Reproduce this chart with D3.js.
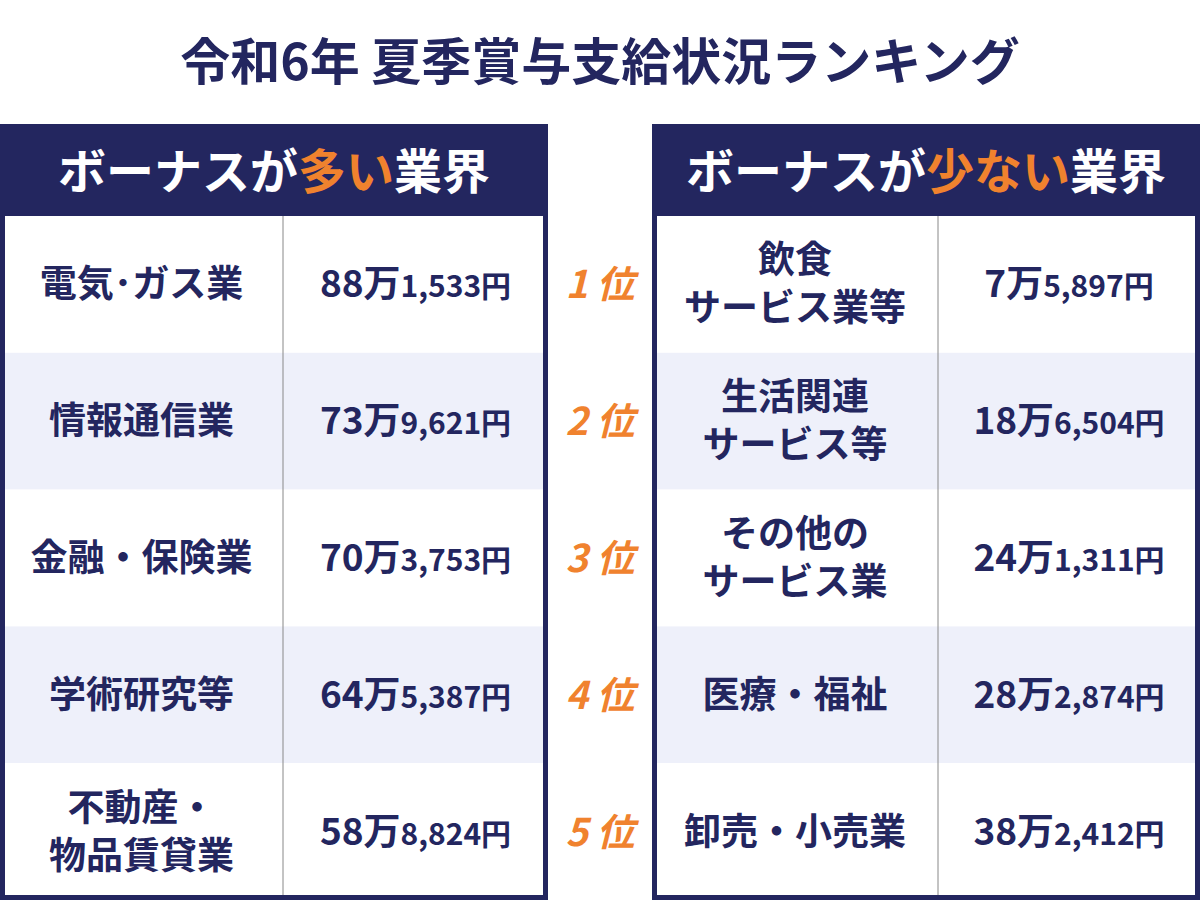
<!DOCTYPE html>
<html><head><meta charset="utf-8">
<script src="https://cdn.jsdelivr.net/npm/d3@7"></script>
<style>body{margin:0;background:#fff}svg{display:block}text{font-family:"Noto Sans CJK JP","Noto Sans",sans-serif;font-weight:700}</style>
</head><body>
<svg id="c" width="1200" height="902"></svg>
<script>
const title = "令和6年 夏季賞与支給状況ランキング";
const ranks = ["1","2","3","4","5"];
const highIndustries = [["電気･ガス業"],["情報通信業"],["金融・保険業"],["学術研究等"],["不動産・","物品賃貸業"]];
const highMan = ["88万","73万","70万","64万","58万"];
const highRest = ["1,533円","9,621円","3,753円","5,387円","8,824円"];
const lowIndustries = [["飲食","サービス業等"],["生活関連","サービス等"],["その他の","サービス業"],["医療・福祉"],["卸売・小売業"]];
const lowMan = ["7万","18万","24万","28万","38万"];
const lowRest = ["5,897円","6,504円","1,311円","2,874円","2,412円"];

const NAVY="#23265f", ORANGE="#f0822e", ALT="#eef0fa";
const svg=d3.select("#c");
svg.append("text").attr("x",600).attr("y",80).attr("text-anchor","middle")
  .attr("font-size",50).attr("fill",NAVY).text(title);

const y=d3.scaleBand().domain(ranks).range([216,900]);

function table(x0,x1,xd,pre,em,post,inds,man,rest){
  const g=svg.append("g");
  g.append("rect").attr("x",x0).attr("y",124).attr("width",x1-x0).attr("height",92).attr("fill",NAVY);
  const ht=g.append("text").attr("x",(x0+x1)/2).attr("y",189).attr("text-anchor","middle").attr("font-size",48).attr("fill","#fff");
  ht.append("tspan").text(pre);ht.append("tspan").attr("fill",ORANGE).text(em);ht.append("tspan").text(post);
  g.selectAll("rect.row").data(ranks).join("rect").attr("class","row")
    .attr("x",x0).attr("y",d=>y(d)).attr("width",x1-x0).attr("height",y.bandwidth())
    .attr("fill",(d,i)=>i%2?ALT:"#fff");
  g.append("line").attr("x1",xd).attr("x2",xd).attr("y1",216).attr("y2",900).attr("stroke","#888").attr("stroke-width",1);
  g.append("rect").attr("x",x0+2.5).attr("y",126.5).attr("width",x1-x0-5).attr("height",771).attr("fill","none").attr("stroke",NAVY).attr("stroke-width",5);
  ranks.forEach((r,i)=>{
    const cy=y(r)+y.bandwidth()/2;
    const lines=inds[i], lh=48;
    lines.forEach((t,j)=>{
      g.append("text").attr("x",(x0+xd)/2).attr("y",cy+(j-(lines.length-1)/2)*lh+13)
       .attr("text-anchor","middle").attr("font-size",37).attr("fill",NAVY).text(t);
    });
    const vt=g.append("text").attr("x",(xd+x1)/2).attr("y",cy+13).attr("text-anchor","middle").attr("fill",NAVY);
    vt.append("tspan").attr("font-size",37).text(man[i]);
    vt.append("tspan").attr("font-size",30).text(rest[i]);
  });
}
table(0,548,283,"ボーナスが","多い","業界",highIndustries,highMan,highRest);
table(652,1200,938,"ボーナスが","少ない","業界",lowIndustries,lowMan,lowRest);

svg.selectAll("text.rank").data(ranks).join("text").attr("class","rank")
  .attr("x",600).attr("y",d=>y(d)+y.bandwidth()/2+14).attr("text-anchor","middle")
  .attr("font-size",38).attr("font-style","italic").attr("fill",ORANGE).text(d=>d+" 位");
</script></body></html>
